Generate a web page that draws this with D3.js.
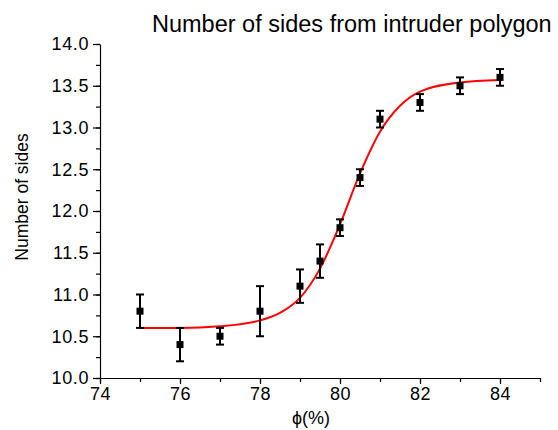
<!DOCTYPE html>
<html>
<head>
<meta charset="utf-8">
<script src="https://cdn.jsdelivr.net/npm/d3@7"></script>
<style>
  body { margin: 0; background: #fff; }
  text { font-family: "Liberation Sans", Arial, sans-serif; fill: #000; }
</style>
</head>
<body>
<div id="chart"></div>
<script>
// measured points
const phi = [75, 76, 77, 78, 79, 79.5, 80, 80.5, 81, 82, 83, 84];
const sides = [10.8, 10.4, 10.5, 10.8, 11.1, 11.4, 11.8, 12.4, 13.1, 13.3, 13.5, 13.6];
const errs = [0.2, 0.2, 0.1, 0.3, 0.2, 0.2, 0.1, 0.1, 0.1, 0.1, 0.1, 0.1];

// fitted curve
const fitPhi = [75, 76, 77, 78, 78.5, 79, 79.5, 80, 80.5, 81, 81.5, 82, 83, 84];
const fitSides = [10.60, 10.60, 10.62, 10.69, 10.78, 10.96, 11.31, 11.84, 12.45, 12.95, 13.26, 13.43, 13.54, 13.57];

const yTicks = [10.0, 10.5, 11.0, 11.5, 12.0, 12.5, 13.0, 13.5, 14.0];
const xTicks = [74, 76, 78, 80, 82, 84];

const width = 558;
const height = 430;

const svg = d3.select("#chart")
    .append("svg")
    .attr("width", width)
    .attr("height", height);

const x = d3.scaleLinear().domain([74, 85]).range([100, 540]);
const y = d3.scaleLinear().domain([10, 14]).range([378, 44]);

// minor ticks
svg.append("g")
   .attr("transform", "translate(0,378)")
   .call(d3.axisBottom(x).tickValues(d3.range(74, 86, 1)).tickSize(4).tickFormat(""))
   .call(g => g.select(".domain").remove());

svg.append("g")
   .attr("transform", "translate(100,0)")
   .call(d3.axisLeft(y).tickValues(d3.range(10, 14.01, 0.25)).tickSize(4).tickFormat(""))
   .call(g => g.select(".domain").remove());

// major axes
svg.append("g")
   .attr("transform", "translate(0,378)")
   .call(d3.axisBottom(x).tickValues(xTicks).tickSize(6).tickPadding(3).tickSizeOuter(0))
   .attr("font-size", 18);

svg.append("g")
   .attr("transform", "translate(100,0)")
   .call(d3.axisLeft(y).tickValues(yTicks).tickSize(7).tickPadding(4)
          .tickFormat(d3.format(".1f")).tickSizeOuter(0))
   .attr("font-size", 18);

svg.selectAll(".tick text")
   .attr("font-family", "'Liberation Sans', Arial, sans-serif")
   .attr("letter-spacing", "0.6px");

svg.selectAll(".domain, .tick line").attr("stroke", "#000").attr("stroke-width", 1.2);

// fitted line
const line = d3.line()
    .x((d, i) => x(fitPhi[i]))
    .y(d => y(d))
    .curve(d3.curveMonotoneX);

svg.append("path")
   .attr("d", line(fitSides))
   .attr("fill", "none")
   .attr("stroke", "#ff0000")
   .attr("stroke-width", 2);

// error bars
const points = phi.map((p, i) => ({ p: p, v: sides[i], e: errs[i] }));

const bars = svg.append("g").attr("stroke", "#000").attr("stroke-width", 2);

bars.selectAll(".stem")
    .data(points)
    .enter()
    .append("line")
    .attr("x1", d => x(d.p))
    .attr("x2", d => x(d.p))
    .attr("y1", d => y(d.v - d.e))
    .attr("y2", d => y(d.v + d.e));

bars.selectAll(".cap-top")
    .data(points)
    .enter()
    .append("line")
    .attr("x1", d => x(d.p) - 4)
    .attr("x2", d => x(d.p) + 4)
    .attr("y1", d => y(d.v + d.e))
    .attr("y2", d => y(d.v + d.e));

bars.selectAll(".cap-bottom")
    .data(points)
    .enter()
    .append("line")
    .attr("x1", d => x(d.p) - 4)
    .attr("x2", d => x(d.p) + 4)
    .attr("y1", d => y(d.v - d.e))
    .attr("y2", d => y(d.v - d.e));

svg.selectAll(".marker")
   .data(points)
   .enter()
   .append("rect")
   .attr("x", d => x(d.p) - 3.5)
   .attr("y", d => y(d.v) - 3.5)
   .attr("width", 7)
   .attr("height", 7)
   .attr("fill", "#000");

// labels
svg.append("text")
   .attr("x", 152)
   .attr("y", 32)
   .style("font-size", "23.5px")
   .text("Number of sides from intruder polygon");

svg.append("text")
   .attr("transform", "translate(28,197) rotate(-90)")
   .attr("text-anchor", "middle")
   .style("font-size", "17.5px")
   .text("Number of sides");

svg.append("text")
   .attr("x", 311)
   .attr("y", 424)
   .attr("text-anchor", "middle")
   .style("font-size", "18px")
   .text("ϕ(%)");
</script>
</body>
</html>
